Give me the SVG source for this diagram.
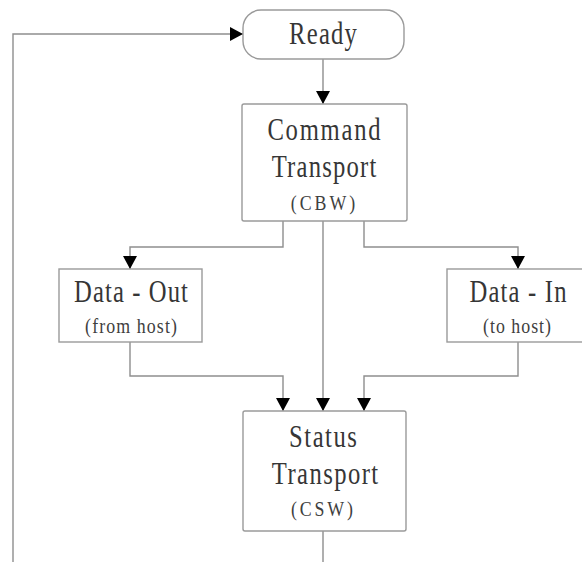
<svg xmlns="http://www.w3.org/2000/svg" width="582" height="562" viewBox="0 0 582 562">
  <style>
    .box { fill: #ffffff; stroke: #9a9a9a; stroke-width: 1.4; }
    .wire { fill: none; stroke: #8e8e8e; stroke-width: 1.4; }
    .big { font-family: "Liberation Serif", "Times New Roman", serif; font-size: 32px; fill: #363636; text-anchor: middle; }
    .small { font-family: "Liberation Serif", "Times New Roman", serif; font-size: 21px; fill: #404040; text-anchor: middle; }
  </style>
  <defs>
    <marker id="arrow" markerUnits="userSpaceOnUse" markerWidth="14" markerHeight="14" refX="13" refY="7" orient="auto">
      <path d="M0,0 L13,7 L0,14 Z" fill="#000000"/>
    </marker>
  </defs>

  <rect width="582" height="562" fill="#ffffff"/>

  <!-- connectors -->
  <g id="connectors">
    <path class="wire" d="M323,531 V580 H13 V34 H243" marker-end="url(#arrow)"/>
    <path class="wire" d="M323,59 V104" marker-end="url(#arrow)"/>
    <path class="wire" d="M283,221 V247 H130 V269" marker-end="url(#arrow)"/>
    <path class="wire" d="M364,221 V247 H518 V269" marker-end="url(#arrow)"/>
    <path class="wire" d="M323,221 V411" marker-end="url(#arrow)"/>
    <path class="wire" d="M130,342 V376 H283 V411" marker-end="url(#arrow)"/>
    <path class="wire" d="M518,342 V376 H364 V411" marker-end="url(#arrow)"/>
  </g>

  <!-- states: condensed, letter-spaced serif lettering -->
  <g id="ready">
    <rect class="box" x="243" y="10" width="161" height="49" rx="18" ry="18"/>
    <text class="big" transform="translate(323,44) scale(0.77,1)" textLength="88" lengthAdjust="spacing">Ready</text>
  </g>

  <g id="command-transport">
    <rect class="box" x="242" y="104" width="165" height="117" rx="2"/>
    <text class="big" transform="translate(324,140) scale(0.77,1)" textLength="147" lengthAdjust="spacing">Command</text>
    <text class="big" transform="translate(324,177) scale(0.77,1)" textLength="136" lengthAdjust="spacing">Transport</text>
    <text class="small" transform="translate(323,210) scale(0.85,1)" textLength="76" lengthAdjust="spacing">(CBW)</text>
  </g>

  <g id="data-out">
    <rect class="box" x="59" y="269" width="143" height="73"/>
    <text class="big" transform="translate(131,302) scale(0.77,1)" textLength="148" lengthAdjust="spacing">Data - Out</text>
    <text class="small" transform="translate(131,333) scale(0.85,1)" textLength="108" lengthAdjust="spacing">(from host)</text>
  </g>

  <g id="data-in">
    <rect class="box" x="447" y="269" width="143" height="73"/>
    <text class="big" transform="translate(518,302) scale(0.77,1)" textLength="126" lengthAdjust="spacing">Data - In</text>
    <text class="small" transform="translate(517,333) scale(0.85,1)" textLength="80" lengthAdjust="spacing">(to host)</text>
  </g>

  <g id="status-transport">
    <rect class="box" x="243" y="411" width="163" height="120" rx="2"/>
    <text class="big" transform="translate(323,447) scale(0.77,1)" textLength="88" lengthAdjust="spacing">Status</text>
    <text class="big" transform="translate(325,484) scale(0.77,1)" textLength="138" lengthAdjust="spacing">Transport</text>
    <text class="small" transform="translate(322,516) scale(0.85,1)" textLength="73" lengthAdjust="spacing">(CSW)</text>
  </g>
</svg>
